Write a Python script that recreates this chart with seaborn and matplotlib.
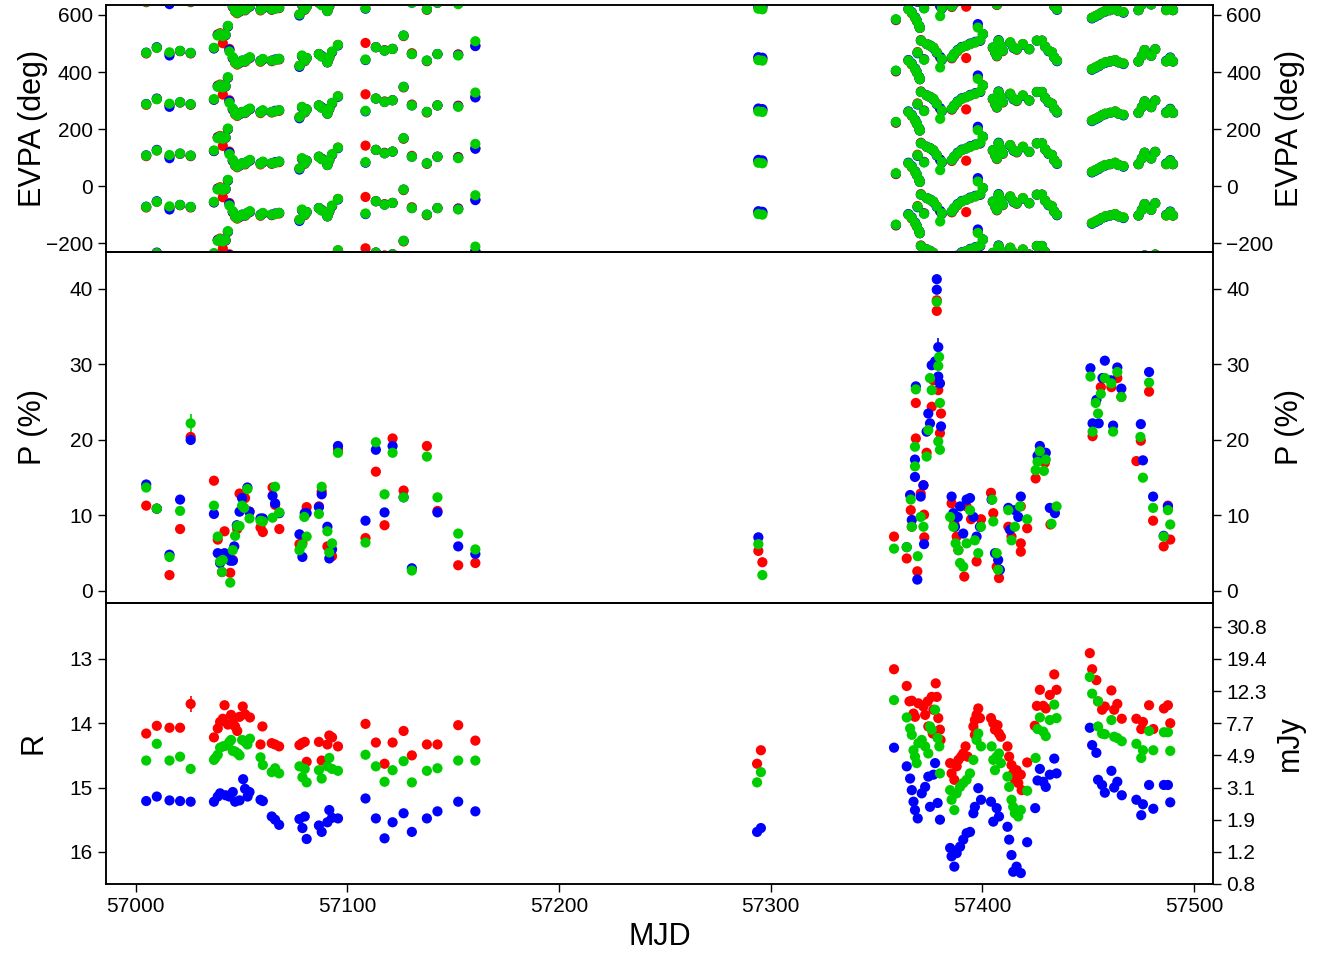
import numpy as np
import pandas as pd
import matplotlib
matplotlib.use("Agg")
import matplotlib.pyplot as plt
import seaborn as sns

# ---------------- DATA ----------------
band_colors = {"red": "#FF0000", "blue": "#0000FF", "green": "#00CD00"}
draw_order = ["red", "blue", "green"]

# EVPA (deg): date, red, green, blue  (plotted with +/- n*180 deg ambiguity copies)
evpa_rows = [
    (57005, 105, 107, 108), (57010, 125, 125, 127), (57016, 105, 109, 98), (57021, 113, 114, 114),
    (57026, 105, 107, 107), (57037, 123, 125, 123), (57038.8, 172, 168, 170), (57039.9, 176, 174, 172),
    (57041.2, 141, 166, 168), (57042.5, 169, 171, 170), (57043.6, 200, 202, 200), (57044.3, 121, 112, 118),
    (57045.9, 88, 92, 90), (57047.0, 72, 74, 76), (57048.0, 66, 68, 70), (57049.1, 72, 74, 72),
    (57050.3, 78, 80, 80), (57051.7, 76, 78, 78), (57052.8, 84, 86, 86), (57054.0, 90, 92, 90),
    (57059.0, 76, 78, 80), (57060.1, 84, 86, 84), (57064.3, 78, 80, 80), (57065.9, 82, 82, 84),
    (57067.8, 84, 86, 86), (57077.4, 62, 62, 58), (57078.6, 96, 98, 96), (57079.9, 78, 80, 80),
    (57080.8, 89, 89, 89), (57086.6, 103, 103, 103), (57087.9, 96, 94, 96), (57090.6, 74, 74, 74),
    (57091.5, 90, 92, 92), (57092.8, 110, 112, 110), (57095.6, 135, 135, 133), (57108.6, 142, 84, 82),
    (57113.5, 127, 127, 127), (57117.6, 117, 115, 115), (57121.4, 121, 121, 121), (57126.6, 166, 168, 168),
    (57130.5, 106, 103, 103), (57137.6, 78, 80, 80), (57142.6, 103, 103, 103), (57152.4, 102, 98, 100),
    (57160.5, 133, 148, 131),
    (57294.2, 88, 82, 92), (57296.1, 86, 80, 90),
    (57359.2, 42, 45, 44), (57365.1, 80, 80, 82), (57366.7, 66, 68, 70), (57368.3, 50, 50, 52),
    (57369.1, 38, 39, 40), (57369.4, 110, 108, 106), (57370.2, 21, 21, 22), (57370.5, 15, 15, 15),
    (57371.0, 152, 150, 150), (57372.5, 85, 83, 84), (57373.8, 138, 138, 138), (57375.4, 132, 132, 133),
    (57376.9, 126, 126, 124), (57378.5, 109, 109, 107), (57380.1, 91, 56, 93), (57380.9, 85, 85, 83),
    (57385.6, 88, 91, 91), (57386.7, 100, 103, 103), (57388.3, 113, 115, 117), (57390.3, 126, 126, 128),
    (57392.4, 89, 132, 132), (57394.3, 138, 138, 140), (57396.7, 144, 144, 146), (57397.9, 200, 196, 208),
    (57399.0, 150, 152, 150), (57400.3, 173, 173, 173), (57405.0, 124, 126, 126), (57406.1, 107, 109, 109),
    (57406.9, 95, 97, 97), (57407.7, 150, 150, 152), (57408.8, 130, 132, 132), (57409.7, 113, 115, 115),
    (57413.2, 144, 144, 142), (57414.8, 126, 126, 124), (57416.3, 118, 120, 120), (57419.2, 138, 138, 136),
    (57422.2, 120, 120, 120), (57425.8, 150, 150, 150), (57428.2, 150, 150, 150), (57429.7, 129, 129, 129),
    (57431.3, 115, 115, 113), (57432.9, 109, 109, 109), (57434.0, 91, 91, 91), (57435.3, 80, 80, 78),
    (57451.8, 50, 50, 48), (57453.4, 56, 56, 54), (57455.0, 62, 62, 60), (57456.5, 68, 68, 68),
    (57458.1, 74, 74, 72), (57460.4, 77, 77, 77), (57462.8, 82, 82, 80), (57464.4, 74, 74, 74),
    (57466.7, 70, 70, 68), (57473.8, 77, 77, 77), (57475.4, 97, 97, 97), (57476.7, 117, 117, 117),
    (57479.8, 97, 97, 97), (57481.7, 120, 120, 120), (57486.9, 77, 77, 79), (57488.8, 89, 89, 91),
    (57490.1, 77, 77, 77),
]
evpa_copies = [-2, -1, 0, 1, 2, 3]

# Polarization degree P (%): (MJD, value)
p_red = [
    (57005, 11.3), (57010, 10.9), (57016, 2.1), (57021, 8.2), (57026, 20.4), (57037, 14.6),
    (57038.8, 6.8), (57040.8, 2.5), (57042.0, 7.9), (57044.7, 2.4), (57045.9, 4.1), (57048.0, 8.2),
    (57049.1, 12.9), (57051.7, 12.3), (57053.8, 10.5), (57059.0, 8.4), (57060.1, 7.8), (57064.7, 13.7),
    (57065.9, 11.4), (57067.9, 8.2), (57077.4, 6.2), (57078.8, 6.3), (57080.8, 11.1), (57086.6, 11.2),
    (57087.9, 13.2), (57090.6, 5.9), (57092.8, 4.6), (57095.6, 18.7), (57108.6, 7.0), (57113.5, 15.8),
    (57117.6, 8.7), (57121.4, 20.2), (57126.6, 13.3), (57137.6, 19.2), (57142.6, 10.6), (57152.4, 3.4),
    (57160.5, 3.7),
    (57294.2, 5.3), (57296.1, 3.8),
    (57358.3, 7.2), (57364.3, 4.3), (57366.2, 10.7), (57366.7, 8.5), (57368.6, 24.9), (57368.6, 20.2),
    (57369.3, 2.6), (57370.9, 12.9), (57372.2, 14.0), (57372.5, 10.1), (57372.6, 7.1), (57373.7, 18.3),
    (57376.1, 24.4), (57376.9, 27.9), (57378.5, 37.1), (57378.5, 38.5), (57379.2, 26.6), (57380.0, 20.9),
    (57380.5, 23.5), (57385.5, 11.6), (57386.8, 8.9), (57387.9, 7.2), (57388.7, 5.4), (57391.5, 1.9),
    (57392.6, 11.2), (57394.7, 9.5), (57397.3, 3.9), (57399.4, 9.5), (57404.1, 13.0), (57405.2, 10.3),
    (57406.8, 3.2), (57407.9, 1.7), (57412.3, 8.5), (57413.8, 7.2), (57418.2, 6.3), (57418.2, 5.2),
    (57418.2, 11.2), (57421.2, 8.3), (57425.2, 14.9), (57427.2, 17.4), (57429.6, 17.0), (57432.2, 8.8),
    (57452.1, 20.5), (57456.0, 27.0), (57461.0, 27.0), (57463.8, 28.2), (57465.7, 25.7), (57472.8, 17.2),
    (57474.9, 19.9), (57478.8, 26.4), (57480.7, 9.3), (57485.7, 5.9), (57487.7, 11.3), (57488.8, 6.8),
]
p_blue = [
    (57005, 14.1), (57010, 10.9), (57016, 4.8), (57021, 12.1), (57026, 20.0), (57037, 10.2),
    (57038.8, 5.0), (57039.9, 3.7), (57042.0, 5.0), (57043.6, 4.6), (57044.7, 4.0), (57045.9, 4.0),
    (57046.6, 5.9), (57047.8, 8.7), (57049.1, 10.5), (57050.3, 12.3), (57052.8, 13.7), (57053.8, 10.5),
    (57059.0, 9.6), (57060.1, 9.6), (57064.7, 12.6), (57065.9, 11.6), (57067.9, 10.3), (57077.4, 7.5),
    (57078.8, 4.5), (57079.9, 10.3), (57080.8, 10.3), (57086.6, 11.1), (57087.9, 12.8), (57090.6, 8.5),
    (57091.5, 4.3), (57092.8, 5.5), (57095.6, 19.2), (57108.6, 9.3), (57113.5, 18.7), (57117.6, 10.4),
    (57121.4, 19.2), (57126.6, 12.4), (57130.5, 3.0), (57142.6, 10.4), (57152.4, 5.9), (57160.5, 4.9),
    (57294.2, 7.1),
    (57364.3, 5.8), (57365.9, 12.7), (57366.7, 9.4), (57368.2, 15.1), (57368.2, 17.4), (57368.6, 27.1),
    (57369.3, 1.5), (57370.9, 12.5), (57372.2, 14.0), (57372.5, 6.2), (57373.7, 21.1), (57374.5, 23.5),
    (57375.3, 22.2), (57376.1, 29.9), (57377.7, 30.4), (57378.5, 41.3), (57378.5, 39.9), (57379.2, 32.3),
    (57379.2, 28.4), (57380.0, 27.5), (57380.5, 21.8), (57385.5, 12.5), (57386.3, 10.3), (57387.1, 8.5),
    (57388.4, 9.8), (57389.5, 11.2), (57391.0, 7.6), (57392.6, 12.1), (57394.2, 12.3), (57395.8, 9.8),
    (57397.3, 7.2), (57398.9, 8.5), (57404.4, 12.1), (57406.0, 5.0), (57407.5, 4.1), (57408.3, 2.8),
    (57412.3, 11.0), (57413.1, 8.1), (57415.4, 10.7), (57417.0, 9.8), (57418.2, 12.5), (57426.1, 17.9),
    (57427.2, 19.2), (57430.0, 18.3), (57431.9, 11.0), (57434.3, 10.3), (57451.1, 29.5), (57452.1, 22.2),
    (57453.9, 25.3), (57455.0, 22.2), (57456.8, 28.2), (57457.9, 30.5), (57460.7, 27.9), (57461.8, 21.9),
    (57463.8, 29.6), (57465.7, 26.8), (57474.9, 22.1), (57475.9, 17.3), (57478.8, 29.0), (57480.7, 12.5),
    (57485.7, 7.3), (57487.7, 11.2),
]
p_green = [
    (57005, 13.7), (57010, 10.9), (57016, 4.5), (57021, 10.6), (57026, 22.2), (57037, 11.3),
    (57038.8, 7.2), (57039.9, 3.9), (57041.2, 4.1), (57040.8, 2.5), (57044.7, 1.1), (57045.9, 5.4),
    (57047.0, 7.3), (57048.0, 8.6), (57049.1, 8.6), (57050.3, 11.3), (57051.3, 11.0), (57052.8, 13.5),
    (57053.8, 9.6), (57059.0, 9.3), (57060.1, 9.2), (57064.7, 9.7), (57065.9, 13.8), (57067.9, 10.4),
    (57077.4, 5.4), (57078.6, 6.1), (57079.7, 9.8), (57080.8, 7.2), (57086.6, 10.2), (57087.9, 13.8),
    (57090.6, 7.9), (57091.5, 5.1), (57092.8, 6.3), (57095.6, 18.3), (57108.6, 6.4), (57113.5, 19.7),
    (57117.6, 12.8), (57121.4, 18.3), (57126.6, 12.4), (57130.5, 2.7), (57137.6, 17.8), (57142.6, 12.4),
    (57152.4, 7.6), (57160.5, 5.5),
    (57294.2, 6.2), (57296.1, 2.1),
    (57358.3, 5.6), (57364.3, 5.8), (57366.2, 12.1), (57366.7, 8.5), (57368.2, 19.1), (57368.2, 16.5),
    (57368.6, 26.7), (57369.5, 4.6), (57370.9, 9.8), (57372.2, 8.5), (57373.7, 17.8), (57374.5, 21.3),
    (57375.3, 28.2), (57376.1, 26.6), (57378.5, 38.3), (57379.6, 31.0), (57379.2, 29.8), (57380.0, 24.9),
    (57379.2, 19.8), (57380.0, 18.7), (57384.8, 9.8), (57386.3, 8.5), (57387.4, 6.3), (57388.7, 5.4),
    (57389.5, 3.7), (57391.0, 3.2), (57392.6, 6.3), (57394.2, 10.7), (57396.5, 6.7), (57398.1, 5.0),
    (57399.4, 8.5), (57404.7, 12.1), (57405.2, 9.2), (57406.8, 5.0), (57407.5, 2.8), (57412.3, 10.7),
    (57413.8, 6.7), (57415.4, 8.5), (57417.8, 11.2), (57421.2, 9.5), (57425.2, 16.0), (57426.1, 17.1),
    (57427.2, 18.5), (57429.1, 15.9), (57430.0, 17.4), (57432.7, 8.9), (57435.1, 11.2), (57451.1, 28.4),
    (57452.1, 21.1), (57453.6, 24.9), (57454.7, 23.5), (57456.0, 26.1), (57457.9, 28.2), (57461.0, 27.5),
    (57461.8, 21.1), (57463.8, 29.0), (57465.7, 25.7), (57474.7, 20.4), (57475.9, 15.0), (57478.8, 27.6),
    (57480.7, 11.0), (57485.7, 7.2), (57487.7, 10.7), (57488.8, 8.8),
]

# R magnitudes: (MJD, mag)
r_red = [
    (57005, 14.16), (57010, 14.04), (57016, 14.07), (57021, 14.07), (57026, 13.70), (57037, 14.22),
    (57038.8, 14.08), (57039.9, 13.98), (57041.2, 13.93), (57042.0, 13.72), (57043.6, 14.02), (57045.1, 13.87),
    (57045.9, 13.98), (57047.0, 14.05), (57048.0, 14.12), (57049.1, 13.90), (57050.6, 13.74), (57051.7, 13.86),
    (57054.0, 13.91), (57059.0, 14.33), (57059.9, 14.05), (57064.3, 14.31), (57065.9, 14.33), (57067.8, 14.36),
    (57077.4, 14.34), (57078.6, 14.31), (57079.9, 14.29), (57080.8, 14.60), (57086.6, 14.29), (57087.9, 14.58),
    (57090.6, 14.33), (57091.5, 14.19), (57092.8, 14.22), (57095.6, 14.36), (57108.6, 14.01), (57113.5, 14.30),
    (57117.6, 14.63), (57121.4, 14.30), (57126.6, 14.12), (57130.5, 14.50), (57137.6, 14.33), (57142.6, 14.33),
    (57152.4, 14.03), (57160.5, 14.27),
    (57293.6, 14.63), (57295.4, 14.42),
    (57358.3, 13.16), (57364.3, 13.42), (57365.6, 13.66), (57366.7, 13.65), (57367.5, 13.85), (57368.2, 13.90),
    (57369.8, 13.69), (57372.2, 13.74), (57373.0, 13.87), (57374.2, 13.66), (57374.5, 14.05), (57376.1, 13.59),
    (57376.6, 14.16), (57376.9, 13.79), (57378.0, 13.38), (57378.5, 13.59), (57379.2, 13.92), (57380.0, 14.10),
    (57380.3, 14.26), (57384.8, 14.62), (57385.5, 14.78), (57386.8, 14.88), (57387.9, 14.67), (57388.7, 14.57),
    (57390.0, 14.52), (57391.0, 14.47), (57392.1, 14.36), (57393.1, 14.52), (57395.8, 14.05), (57396.5, 13.95),
    (57397.3, 13.87), (57398.1, 13.77), (57398.9, 13.92), (57396.5, 14.18), (57404.1, 13.92), (57405.2, 14.00),
    (57406.0, 14.10), (57407.2, 14.03), (57407.9, 14.16), (57408.8, 14.21), (57411.9, 14.36), (57412.7, 14.52),
    (57413.8, 14.65), (57414.6, 14.78), (57415.4, 14.88), (57416.2, 14.73), (57417.0, 14.93), (57418.2, 14.80),
    (57418.6, 15.04), (57421.2, 14.61), (57424.8, 14.04), (57425.8, 13.73), (57427.2, 13.48), (57428.8, 13.73),
    (57430.0, 13.77), (57431.9, 13.56), (57434.0, 13.24), (57435.1, 13.48), (57450.8, 12.91), (57451.9, 13.16),
    (57453.9, 13.33), (57454.7, 13.66), (57456.6, 13.79), (57457.9, 13.74), (57461.0, 13.49), (57462.3, 13.79),
    (57463.8, 13.70), (57465.9, 13.93), (57472.8, 13.93), (57475.1, 14.09), (57475.9, 13.98), (57478.8, 13.72),
    (57480.8, 14.09), (57485.8, 13.77), (57487.7, 13.72), (57488.8, 14.00),
]
r_green = [
    (57005, 14.58), (57010, 14.32), (57016, 14.58), (57021, 14.52), (57026, 14.71), (57037, 14.57),
    (57037.7, 14.54), (57038.8, 14.49), (57039.9, 14.38), (57041.2, 14.36), (57042.5, 14.35), (57044.3, 14.29),
    (57045.1, 14.26), (57045.9, 14.43), (57047.0, 14.44), (57048.3, 14.47), (57049.1, 14.50), (57050.3, 14.26),
    (57051.7, 14.29), (57052.8, 14.33), (57054.0, 14.24), (57059.0, 14.53), (57060.1, 14.65), (57064.3, 14.76),
    (57065.9, 14.70), (57067.8, 14.78), (57077.4, 14.67), (57079.9, 14.71), (57078.8, 14.84), (57080.8, 14.92),
    (57086.6, 14.73), (57087.9, 14.86), (57090.6, 14.67), (57091.5, 14.54), (57092.8, 14.71), (57095.6, 14.74),
    (57108.6, 14.49), (57113.5, 14.67), (57117.6, 14.91), (57121.4, 14.73), (57126.6, 14.59), (57130.5, 14.92),
    (57137.6, 14.74), (57142.6, 14.70), (57152.4, 14.58), (57160.5, 14.58),
    (57293.6, 14.92), (57295.4, 14.76),
    (57358.3, 13.64), (57364.3, 13.91), (57365.9, 14.08), (57366.7, 14.18), (57367.5, 14.42), (57368.2, 14.52),
    (57369.0, 14.62), (57369.8, 14.31), (57371.4, 14.26), (57373.0, 14.36), (57374.5, 14.47), (57375.3, 14.05),
    (57376.1, 14.10), (57377.7, 13.79), (57378.9, 14.23), (57379.7, 14.36), (57380.0, 14.78), (57384.8, 15.04),
    (57385.5, 15.19), (57386.8, 15.35), (57387.9, 15.09), (57389.5, 14.99), (57391.0, 14.93), (57392.6, 14.88),
    (57394.2, 14.78), (57395.8, 14.57), (57397.3, 14.26), (57398.1, 14.16), (57399.4, 14.36), (57404.4, 14.36),
    (57405.2, 14.57), (57406.0, 14.73), (57406.8, 14.52), (57407.9, 14.47), (57408.8, 14.62), (57411.9, 14.83),
    (57412.7, 14.99), (57413.8, 15.19), (57414.6, 15.30), (57415.4, 15.40), (57417.0, 15.45), (57418.2, 15.35),
    (57421.2, 15.05), (57425.2, 14.54), (57426.1, 14.09), (57427.2, 13.91), (57428.8, 14.13), (57430.0, 14.20),
    (57431.9, 13.95), (57434.0, 13.71), (57435.1, 13.92), (57450.8, 13.28), (57451.9, 13.54), (57454.7, 13.66),
    (57454.7, 14.05), (57456.6, 14.16), (57457.9, 14.17), (57461.0, 13.95), (57462.3, 14.21), (57463.8, 14.23),
    (57465.9, 14.28), (57472.8, 14.32), (57475.1, 14.54), (57475.9, 14.42), (57478.8, 14.12), (57480.8, 14.42),
    (57485.8, 14.14), (57487.7, 14.14), (57488.8, 14.43),
]
r_blue = [
    (57005, 15.21), (57010, 15.14), (57016, 15.20), (57021, 15.21), (57026, 15.22), (57037, 15.22),
    (57038.8, 15.14), (57039.9, 15.09), (57042.5, 15.12), (57044.3, 15.14), (57045.9, 15.07), (57047.0, 15.22),
    (57049.1, 15.20), (57050.8, 14.87), (57051.7, 15.02), (57052.9, 15.14), (57053.8, 15.07), (57059.0, 15.19),
    (57060.1, 15.21), (57064.3, 15.45), (57065.9, 15.50), (57067.8, 15.58), (57077.4, 15.49), (57079.9, 15.45),
    (57078.8, 15.63), (57080.8, 15.80), (57086.6, 15.59), (57087.9, 15.69), (57090.6, 15.54), (57091.5, 15.35),
    (57092.8, 15.47), (57095.6, 15.48), (57108.6, 15.17), (57113.5, 15.48), (57117.6, 15.79), (57121.4, 15.54),
    (57126.6, 15.40), (57130.5, 15.69), (57137.6, 15.48), (57142.6, 15.37), (57152.4, 15.22), (57160.5, 15.37),
    (57293.6, 15.69), (57295.4, 15.63),
    (57358.3, 14.38), (57364.3, 14.67), (57365.9, 14.86), (57366.7, 15.04), (57367.5, 15.22), (57368.2, 15.35),
    (57369.5, 15.48), (57371.4, 15.09), (57373.0, 14.99), (57374.5, 14.83), (57375.3, 15.30), (57376.9, 14.80),
    (57377.7, 14.62), (57378.9, 15.24), (57380.0, 15.50), (57384.8, 15.94), (57385.5, 16.07), (57386.8, 16.23),
    (57387.9, 16.02), (57389.5, 15.92), (57391.0, 15.81), (57392.6, 15.71), (57394.2, 15.69), (57395.8, 15.40),
    (57396.5, 15.30), (57398.1, 15.01), (57399.4, 15.19), (57404.1, 15.22), (57405.2, 15.53), (57406.8, 15.32),
    (57407.9, 15.45), (57411.9, 15.61), (57412.7, 15.81), (57413.8, 16.05), (57414.6, 16.31), (57416.2, 16.23),
    (57418.2, 16.33), (57421.2, 15.85), (57425.0, 15.32), (57426.1, 14.89), (57427.2, 14.71), (57428.8, 14.91),
    (57430.0, 14.99), (57431.9, 14.80), (57434.0, 14.55), (57435.1, 14.78), (57450.8, 14.07), (57451.9, 14.34),
    (57453.9, 14.46), (57454.7, 14.88), (57456.6, 14.96), (57457.9, 15.08), (57461.0, 14.74), (57462.3, 15.00),
    (57463.8, 14.91), (57465.9, 15.12), (57472.8, 15.19), (57475.1, 15.43), (57475.9, 15.26), (57478.8, 14.96),
    (57480.8, 15.33), (57485.8, 14.96), (57487.7, 14.96), (57488.8, 15.23),
]

# visible error bars: (band, MJD, value, error)
p_errors = [("green", 57026, 22.2, 1.2), ("red", 57026, 20.4, 0.5), ("blue", 57026, 20.0, 0.5),
            ("red", 57037, 14.6, 0.6), ("red", 57121.4, 20.2, 0.6), ("red", 57137.6, 19.2, 0.6),
            ("green", 57137.6, 17.8, 0.5), ("blue", 57379.2, 32.3, 1.2)]
r_errors = [("red", 57026, 13.70, 0.13), ("green", 57026, 14.71, 0.06), ("blue", 57026, 15.22, 0.06),
            ("red", 57042.0, 13.72, 0.07), ("red", 57045.1, 13.87, 0.06), ("red", 57049.1, 13.90, 0.06),
            ("red", 57059.9, 14.05, 0.05), ("red", 57080.8, 14.60, 0.04), ("red", 57087.9, 14.58, 0.04),
            ("red", 57152.4, 14.03, 0.06), ("red", 57160.5, 14.27, 0.04), ("red", 57108.6, 14.01, 0.04)]

evpa_ticks = [-200, 0, 200, 400, 600]
p_ticks = [0, 10, 20, 30, 40]
r_ticks = [13, 14, 15, 16]
mjy_tick_mags = [12.5, 13.0, 13.5, 14.0, 14.5, 15.0, 15.5, 16.0, 16.5]
mjy_tick_labels = ["30.8", "19.4", "12.3", "7.7", "4.9", "3.1", "1.9", "1.2", "0.8"]
x_ticks = [57000, 57100, 57200, 57300, 57400, 57500]

# ---------------- FRAMES ----------------
def long_frame(series):
    parts = []
    for band in draw_order:
        pts = series[band]
        parts.append(pd.DataFrame({"mjd": [p[0] for p in pts], "val": [p[1] for p in pts], "band": band}))
    return pd.concat(parts, ignore_index=True)

evpa_parts = []
for band, col in [("red", 1), ("blue", 3), ("green", 2)]:
    for k in evpa_copies:
        evpa_parts.append(pd.DataFrame({"mjd": [r[0] for r in evpa_rows],
                                        "val": [r[col] + 180 * k for r in evpa_rows],
                                        "band": band}))
evpa_df = pd.concat(evpa_parts, ignore_index=True)
p_df = long_frame({"red": p_red, "blue": p_blue, "green": p_green})
r_df = long_frame({"red": r_red, "blue": r_blue, "green": r_green})

# ---------------- PLOT ----------------
sns.set_theme(style="ticks")
plt.rcParams['font.family'] = ['Liberation Sans', 'DejaVu Sans']
plt.rcParams['axes.linewidth'] = 1.1
plt.rcParams['text.color'] = 'black'
plt.rcParams['axes.labelcolor'] = 'black'
plt.rcParams['xtick.color'] = 'black'
plt.rcParams['ytick.color'] = 'black'
plt.rcParams['axes.edgecolor'] = 'black'

W, H = 1321, 958
fig = plt.figure(figsize=(W / 100, H / 100), dpi=100)
gs = fig.add_gridspec(3, 1, height_ratios=[247, 351, 281], hspace=0,
                      left=106 / W, right=1213 / W, top=1 - 5 / H, bottom=1 - 884 / H)
ax1 = fig.add_subplot(gs[0])
ax2 = fig.add_subplot(gs[1], sharex=ax1)
ax3 = fig.add_subplot(gs[2], sharex=ax1)

ms = 54
for ax, df in [(ax1, evpa_df), (ax2, p_df), (ax3, r_df)]:
    sns.scatterplot(data=df, x="mjd", y="val", hue="band", palette=band_colors,
                    hue_order=draw_order, s=ms, linewidth=0, edgecolor="none",
                    legend=False, ax=ax, zorder=3)

for ax, errs in [(ax2, p_errors), (ax3, r_errors)]:
    for band, x, y, e in errs:
        ax.errorbar([x], [y], yerr=[e], fmt="none", ecolor=band_colors[band], elinewidth=1.2, zorder=2)

ax1.set_xlim(56986, 57509)
ax1.set_ylim(-231, 635)
ax2.set_ylim(-1.6, 44.9)
ax3.set_ylim(16.5, 12.13)

ax1.set_yticks(evpa_ticks)
ax2.set_yticks(p_ticks)
ax3.set_yticks(r_ticks)
ax3.set_xticks(x_ticks)

lab_fs = 22
tick_fs = 15
ax1.set_ylabel("EVPA (deg)", fontsize=lab_fs, color="black")
ax2.set_ylabel("P (%)", fontsize=lab_fs, color="black")
ax3.set_ylabel("R", fontsize=lab_fs, color="black")
ax3.set_xlabel("MJD", fontsize=lab_fs, labelpad=4, color="black")
for ax in (ax1, ax2, ax3):
    ax.yaxis.set_label_coords(-0.052, 0.5)
    ax.tick_params(axis="both", direction="out", length=6, width=1, labelsize=tick_fs,
                   colors="black", labelcolor="black")
    for s in ax.spines.values():
        s.set_color("black")
for ax in (ax1, ax2):
    ax.tick_params(axis="x", bottom=False, labelbottom=False)

# right-hand axes
for ax, ticks, labels, name in [(ax1, evpa_ticks, None, "EVPA (deg)"), (ax2, p_ticks, None, "P (%)"),
                                (ax3, mjy_tick_mags, mjy_tick_labels, "mJy")]:
    tw = ax.twinx()
    tw.set_ylim(ax.get_ylim())
    tw.set_yticks(ticks)
    if labels is not None:
        tw.set_yticklabels(labels)
    tw.tick_params(axis="y", direction="out", length=6, width=1, labelsize=tick_fs,
                   colors="black", labelcolor="black")
    tw.set_ylabel(name, fontsize=lab_fs, rotation=90, color="black")
    tw.yaxis.set_label_coords(1.056, 0.5)
    tw.yaxis.label.set_va("top")
    for s in tw.spines.values():
        s.set_color("black")
        s.set_linewidth(1.1)

fig.savefig("out.png", dpi=100, facecolor="white")
